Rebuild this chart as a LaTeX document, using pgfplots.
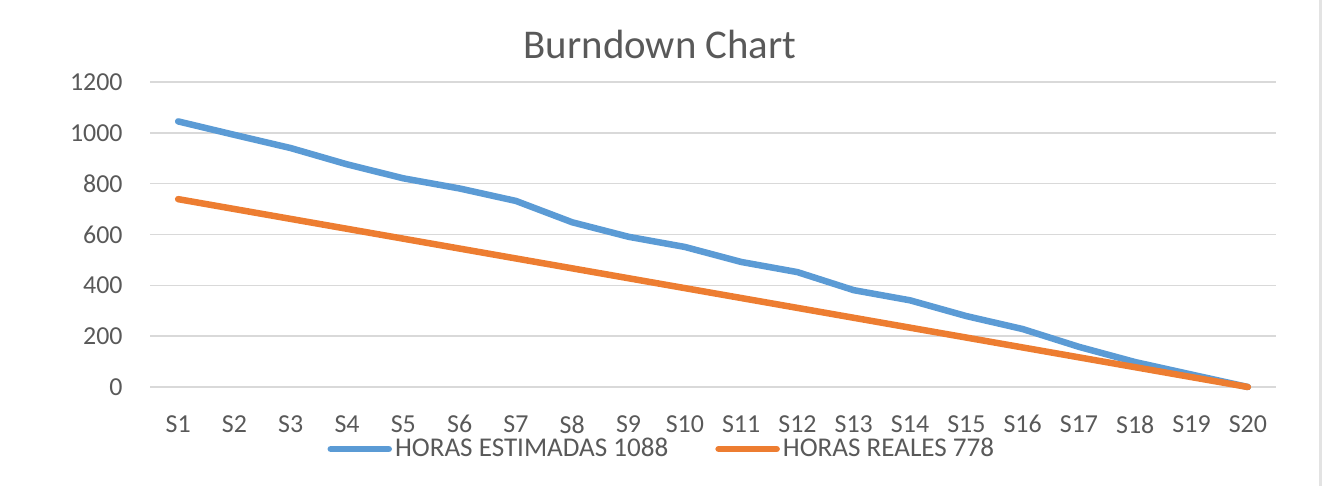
\documentclass[border=0pt]{standalone}
\usepackage{fontspec}
\setmainfont{Carlito}
\usepackage{pgfplots}
\usepackage{pgfplotstable}
\pgfplotsset{compat=1.18}
\definecolor{textgray}{HTML}{595959}
\definecolor{gridgray}{HTML}{D9D9D9}
\definecolor{xlblue}{HTML}{5B9BD5}
\definecolor{xlorange}{HTML}{ED7D31}
\definecolor{framegray}{HTML}{E3E3E3}

\pgfplotstableread{
x est
1 1045
2 992
3 940
4 876
5 821
6 781
7 732
8 648
9 591
10 551
11 492
12 452
13 381
14 341
15 279
16 228
17 158
18 98
19 49
20 0
}\estimadas

\pgfplotstableread{
x real
1 739.1
2 700.2
3 661.3
4 622.4
5 583.5
6 544.6
7 505.7
8 466.8
9 427.9
10 389.0
11 350.1
12 311.2
13 272.3
14 233.4
15 194.5
16 155.6
17 116.7
18 77.8
19 38.9
20 0
}\reales

\begin{document}
\begin{tikzpicture}
\useasboundingbox (0,0) rectangle (662bp,243bp);
\draw[framegray, line width=1.5bp] (660bp,0) -- (660bp,243bp);
\begin{axis}[
  at={(75bp,49.5bp)}, anchor=south west,
  scale only axis,
  width=563bp, height=152.5bp,
  xmin=0.5, xmax=20.5,
  ymin=0, ymax=1200,
  ytick={0,200,...,1200},
  xtick={1,...,20},
  xticklabels={S1,S2,S3,S4,S5,S6,S7,S8,S9,S10,S11,S12,S13,S14,S15,S16,S17,S18,S19,S20},
  axis line style={draw=none},
  major tick length=0pt,
  ymajorgrids,
  grid style={color=gridgray, line width=0.8bp},
  /pgf/number format/assume math mode=true,
  /pgf/number format/1000 sep={},
  ticklabel style={font=\fontsize{13}{15}\selectfont, text=textgray},
  yticklabel style={anchor=east, inner sep=0pt, xshift=-13.5bp},
  xticklabel style={anchor=north, inner sep=0pt, yshift=-14bp},
  every axis title shift=0pt,
  title={Burndown Chart},
  title style={at={(0.453,1)}, anchor=base, inner sep=0pt, yshift=11.5bp,
    font=\fontsize{20.5}{24}\selectfont, text=textgray},
  legend columns=2,
  legend style={at={(0.455,-0.2033)}, anchor=center, draw=none, fill=none,
    font=\fontsize{13.6}{15}\selectfont, text=textgray,
    inner sep=0pt, outer sep=0pt,
    nodes={inner sep=1.5bp},
    /tikz/every even column/.append style={column sep=22bp}},
  legend image code/.code={\draw[#1, line cap=round] (0bp,0bp) -- (29bp,0bp);},
  clip=false,
]
\addplot[xlblue, line width=3.25bp, line join=round, line cap=round] table[x=x, y=est] {\estimadas};
\addlegendentry{HORAS ESTIMADAS 1088}
\addplot[xlorange, line width=3.25bp, line join=round, line cap=round] table[x=x, y=real] {\reales};
\addlegendentry{HORAS REALES 778}
\end{axis}
\end{tikzpicture}
\end{document}
